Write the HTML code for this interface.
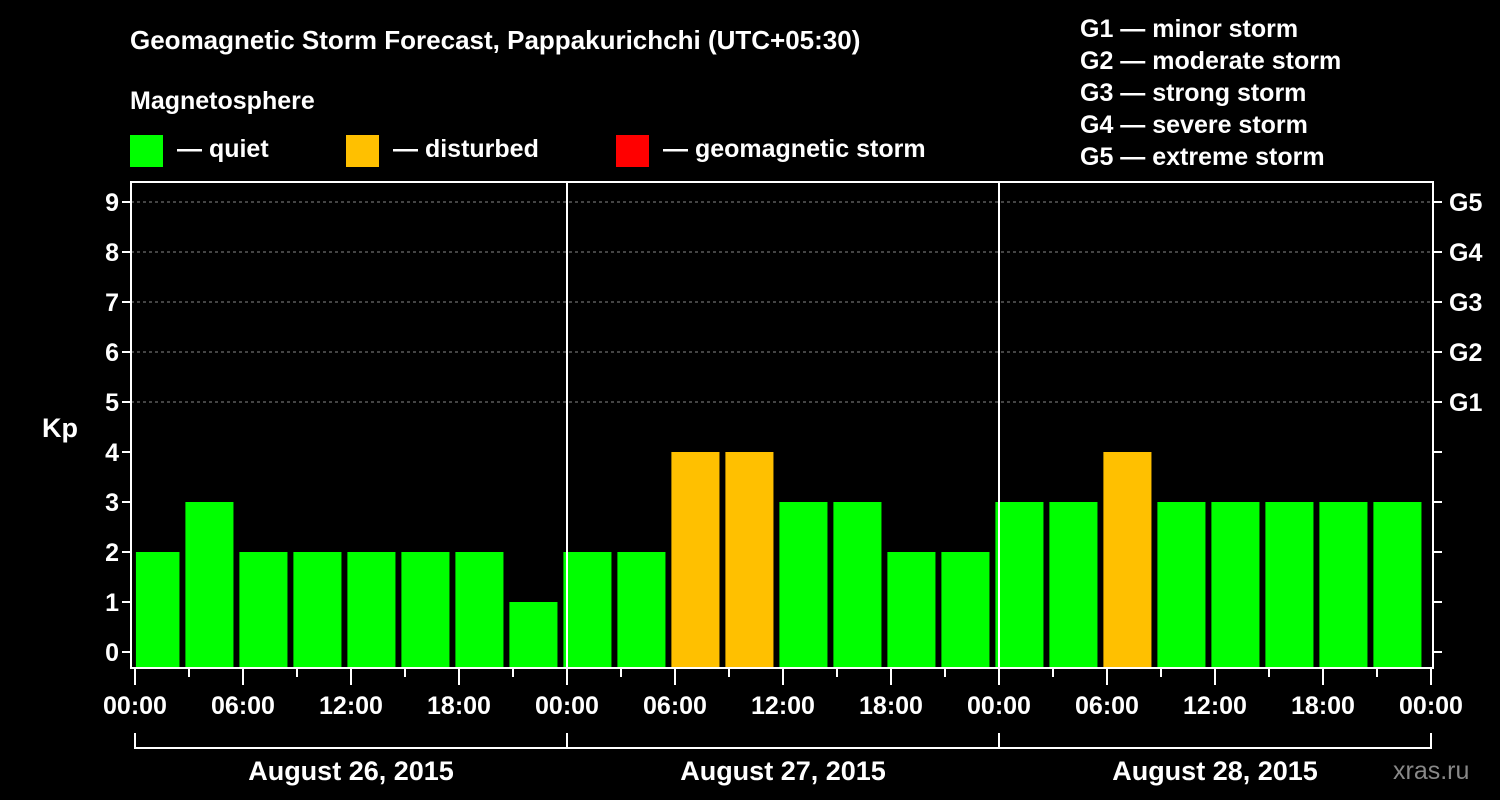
<!DOCTYPE html>
<html><head><meta charset="utf-8"><style>
html,body{margin:0;padding:0;background:#000;}
svg{display:block;font-family:"Liberation Sans",sans-serif;font-weight:bold;}
</style></head><body>
<svg id="chart" width="1500" height="800" viewBox="0 0 1500 800">
<rect width="1500" height="800" fill="#000"/>
<text x="130" y="49" fill="#fff" font-size="26">Geomagnetic Storm Forecast, Pappakurichchi (UTC+05:30)</text>
<text x="130" y="109" fill="#fff" font-size="25">Magnetosphere</text>
<g><rect x="130" y="135" width="33" height="32" fill="#00ff00"/><text x="177" y="157" fill="#fff" font-size="25">— quiet</text></g>
<g><rect x="346" y="135" width="33" height="32" fill="#ffc000"/><text x="393" y="157" fill="#fff" font-size="25">— disturbed</text></g>
<g><rect x="616" y="135" width="33" height="32" fill="#ff0000"/><text x="663" y="157" fill="#fff" font-size="25">— geomagnetic storm</text></g>
<g fill="#fff" font-size="25">
<text x="1080" y="37">G1 — minor storm</text>
<text x="1080" y="69">G2 — moderate storm</text>
<text x="1080" y="101">G3 — strong storm</text>
<text x="1080" y="133">G4 — severe storm</text>
<text x="1080" y="165">G5 — extreme storm</text>
</g>
<g id="grid"></g>
<g id="bars"></g>
<g id="axes"></g>
<text x="42" y="437" fill="#fff" font-size="27">Kp</text>
<text x="1393" y="779" fill="#888" font-size="25" font-weight="normal">xras.ru</text>
</svg>
<script>
const kpValues=[2,2,3,2,2,2,2,2,1,2,2,4,4,3,3,2,2,3,3,4,3,3,3,3,3,3];
const yTicks=[0,1,2,3,4,5,6,7,8,9];
const gLabels=["G1","G2","G3","G4","G5"];
const gLevels=[5,6,7,8,9];
const xLabels=["00:00","06:00","12:00","18:00","00:00","06:00","12:00","18:00","00:00","06:00","12:00","18:00","00:00"];
const dateLabels=["August 26, 2015","August 27, 2015","August 28, 2015"];
const NS="http://www.w3.org/2000/svg";
const X0=135,PX_H=18,L=131,R=1433,T=182,B=668;
const xs=h=>X0+h*PX_H;
const ys=v=>652-v*50;
function mk(tag,at,parent){const e=document.createElementNS(NS,tag);for(const k in at)e.setAttribute(k,at[k]);parent.appendChild(e);return e;}
const grid=document.getElementById('grid'),bars=document.getElementById('bars'),axes=document.getElementById('axes');
yTicks.forEach(v=>{if(v>=5){const l=mk('line',{x1:L,x2:R,y1:ys(v),y2:ys(v),stroke:'#888','stroke-dasharray':'3,3','stroke-width':1},grid);

}});
// bars: 3-hour UTC intervals, local offset 5.5h => boundaries at 2.5h local, first bar starts at -0.5h
kpValues.forEach((v,i)=>{
 let h0=-0.5+3*(i)-3+0.3,h1=h0+2.67;
 h0=Math.max(h0,0.05);h1=Math.min(h1,71.8);
 if(h1<=h0)return;
 const c=v>=5?'#ff0000':(v>=4?'#ffc000':'#00ff00');
 const r=mk('rect',{x:xs(h0),y:ys(v),width:xs(h1)-xs(h0),height:B-ys(v),fill:c},bars);
 
 
});
// day separators
[24,48].forEach(h=>{const l=mk('line',{x1:xs(h),x2:xs(h),y1:T,y2:B,stroke:'#fff','stroke-width':2},axes);

});
const fr=mk('rect',{x:L,y:T,width:R-L,height:B-T,fill:'none',stroke:'#fff','stroke-width':2},axes);


yTicks.forEach(v=>{
 mk('line',{x1:L-9,x2:L,y1:ys(v),y2:ys(v),stroke:'#fff','stroke-width':2},axes);
 mk('line',{x1:R,x2:R+9,y1:ys(v),y2:ys(v),stroke:'#fff','stroke-width':2},axes);
 const t=mk('text',{x:L-12,y:ys(v)+9,fill:'#fff','font-size':25,'text-anchor':'end'},axes);t.textContent=v;
 
 
});
gLevels.forEach((v,i)=>{const t=mk('text',{x:1449,y:ys(v)+9,fill:'#fff','font-size':25},axes);t.textContent=gLabels[i];

});
for(let h=0;h<=72;h+=3){const maj=h%6===0;mk('line',{x1:xs(h),x2:xs(h),y1:B,y2:B+(maj?17:9),stroke:'#fff','stroke-width':2},axes);}
xLabels.forEach((s,i)=>{const t=mk('text',{x:xs(i*6),y:714,fill:'#fff','font-size':25,'text-anchor':'middle'},axes);t.textContent=s;

});
mk('line',{x1:xs(0),x2:xs(72),y1:748,y2:748,stroke:'#fff','stroke-width':2},axes);
[0,24,48,72].forEach(h=>mk('line',{x1:xs(h),x2:xs(h),y1:733,y2:749,stroke:'#fff','stroke-width':2},axes));
dateLabels.forEach((s,i)=>{const t=mk('text',{x:xs(i*24+12),y:780,fill:'#fff','font-size':27,'text-anchor':'middle'},axes);t.textContent=s;

});
</script>
</body></html>
